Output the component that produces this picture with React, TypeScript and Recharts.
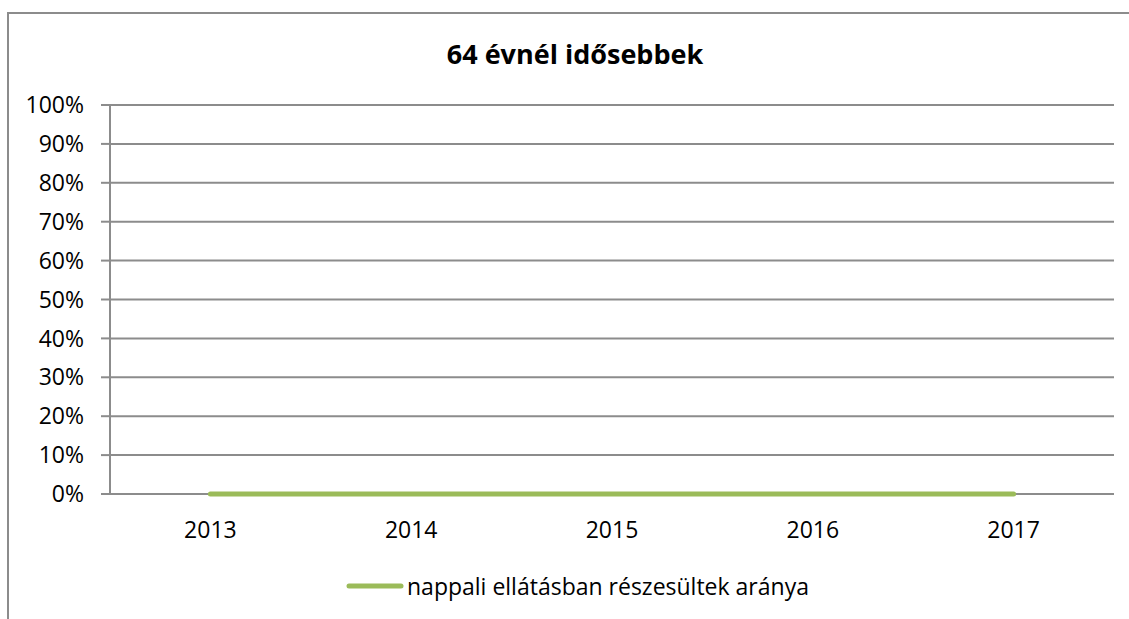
import { LineChart, Line, XAxis, YAxis, CartesianGrid } from "recharts"

const years = ["2013", "2014", "2015", "2016", "2017"]
const shareValues = [0, 0, 0, 0, 0]
const yTicks = [0, 0.1, 0.2, 0.3, 0.4, 0.5, 0.6, 0.7, 0.8, 0.9, 1]
const seriesName = "nappali ellátásban részesültek aránya"
const title = "64 évnél idősebbek"

const GREEN = "#9bbb59"
const GRID = "#8c8c8c"
const FONT = "'Open Sans', sans-serif"

// x runs 0..5, each year sits in the middle of its band
const chartData = years.map((year, i) => ({ x: i + 0.5, year, value: shareValues[i] }))
const bandTicks = years.map((_, i) => i).concat(years.length)
const labelTicks = years.map((_, i) => i + 0.5)

export default function App() {
  return (
    <div style={{ position: "absolute", left: 0, top: 0, width: 1129, height: 619, background: "#fff", fontFamily: FONT, overflow: "hidden" }}>
      <div
        style={{
          position: "absolute",
          left: 7,
          top: 12,
          width: 1200,
          height: 700,
          borderTop: `2px solid ${GRID}`,
          borderLeft: `2px solid ${GRID}`,
        }}
      />
      <div
        style={{
          position: "absolute",
          left: 0,
          width: 1150,
          top: 35,
          textAlign: "center",
          fontSize: 27,
          fontWeight: 700,
          color: "#000",
        }}
      >
        {title}
      </div>
      <div style={{ position: "absolute", left: 0, top: 0 }}>
        <LineChart width={1129} height={619} data={chartData} margin={{ top: 105, right: 15, left: 0, bottom: 95 }}>
          <CartesianGrid vertical={false} stroke={GRID} strokeWidth={2} />
          <YAxis
            type="number"
            domain={[0, 1]}
            ticks={yTicks}
            width={110}
            interval={0}
            tickFormatter={(v: number) => `${Math.round(v * 100)}%`}
            tick={{ fill: "#000", fontSize: 23, fontFamily: FONT }}
            tickSize={9}
            tickMargin={17}
            axisLine={{ stroke: GRID, strokeWidth: 2 }}
            tickLine={{ stroke: GRID, strokeWidth: 2 }}
          />
          <XAxis
            xAxisId="bands"
            dataKey="x"
            type="number"
            domain={[0, years.length]}
            ticks={bandTicks}
            interval={0}
            height={0}
            tick={false}
            tickSize={8}
            axisLine={{ stroke: GRID, strokeWidth: 2 }}
            tickLine={{ stroke: GRID, strokeWidth: 2 }}
          />
          <XAxis
            xAxisId="labels"
            dataKey="x"
            type="number"
            domain={[0, years.length]}
            ticks={labelTicks}
            interval={0}
            height={30}
            axisLine={false}
            tickLine={false}
            tickSize={0}
            tickMargin={28}
            tickFormatter={(v: number) => years[Math.floor(v)]}
            tick={{ fill: "#000", fontSize: 23, fontFamily: FONT }}
          />
          <Line
            xAxisId="bands"
            type="linear"
            dataKey="value"
            name={seriesName}
            stroke={GREEN}
            strokeWidth={5}
            strokeLinecap="round"
            dot={false}
            activeDot={false}
            isAnimationActive={false}
          />
        </LineChart>
      </div>
      <div style={{ position: "absolute", left: 346, top: 570, display: "flex", alignItems: "center", fontSize: 23, color: "#000" }}>
        <svg width={58} height={10} style={{ marginRight: 3 }}>
          <line x1={3} y1={5} x2={55} y2={5} stroke={GREEN} strokeWidth={5} strokeLinecap="round" />
        </svg>
        <span>{seriesName}</span>
      </div>
    </div>
  )
}
